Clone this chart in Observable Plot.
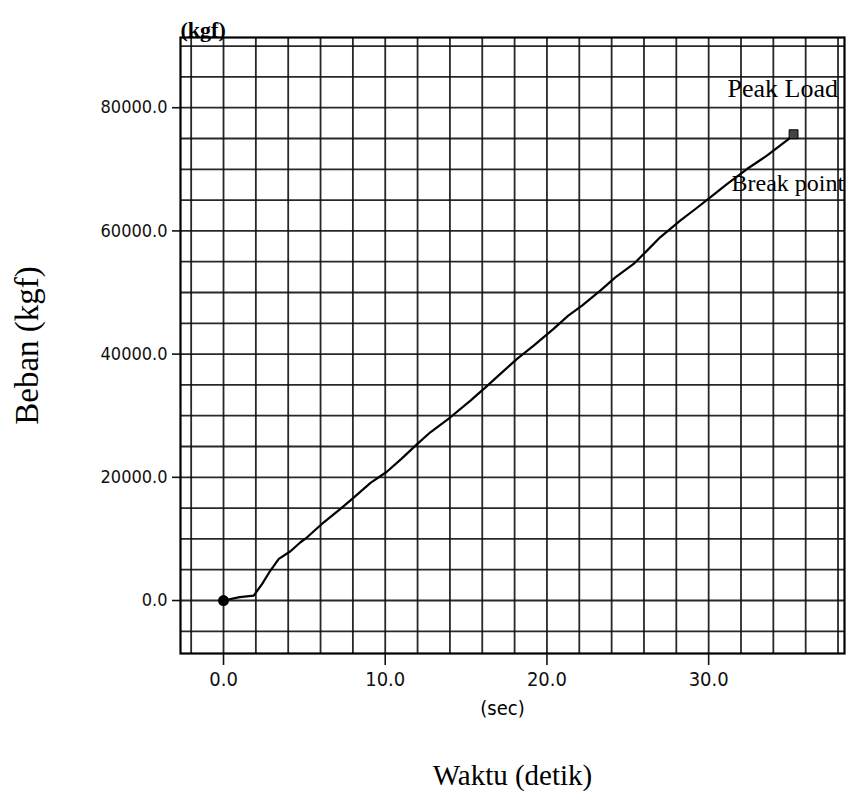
<!DOCTYPE html>
<html>
<head>
<meta charset="utf-8">
<script src="https://cdn.jsdelivr.net/npm/d3@7"></script>
<script src="https://cdn.jsdelivr.net/npm/@observablehq/plot@0.6"></script>
<style>
  html, body { margin: 0; padding: 0; background: #fff; }
  #chart svg { display: block; }
</style>
</head>
<body>
<div id="chart"></div>
<script>
// Tensile test record: load (kgf) against time (sec)
const time = [0, 1.0, 1.87, 2.39, 2.9, 3.42, 4.14, 4.76, 5.17, 6.2, 7.23, 8.05, 9.09, 10.1, 11.0,
  11.87, 12.79, 14.03, 15.27, 16.2, 17.12, 18.15, 19.18, 20.41, 21.3, 22.17, 23.3, 24.23, 25.36,
  26.19, 27.0, 28.24, 29.2, 30.1, 31.13, 32.37, 33.6, 34.94, 35.25];
const load = [0, 540, 800, 2700, 4870, 6770, 8000, 9460, 10270, 12700, 14880, 16700, 19100, 20900, 23000,
  25150, 27310, 29750, 32450, 34600, 36790, 39220, 41380, 44100, 46200, 47870, 50300, 52460, 54640,
  56800, 58960, 61660, 63600, 65440, 67610, 70050, 72210, 74920, 75700];

const xTicks = [0, 10, 20, 30];
const yTicks = [0, 20000, 40000, 60000, 80000];
const xGrid = d3.range(-2, 39, 2);
const yGrid = d3.range(-5000, 90001, 5000);

const annotations = ["Peak Load", "Break point"];

const series = time.map((t, i) => ({t, load: load[i]}));
const start = series[0];
const peak = series[series.length - 1];

const tickFont = "'Liberation Sans Narrow', 'DejaVu Sans Condensed', sans-serif";
const serif = "'Liberation Serif', 'DejaVu Serif', serif";
const fmt = d => d.toFixed(1);

const chart = Plot.plot({
  width: 847,
  height: 800,
  marginLeft: 180,
  marginRight: 3,
  marginTop: 37,
  marginBottom: 147,
  x: {domain: [-2.66, 38.4]},
  y: {domain: [-8600, 91400]},
  style: {background: "#fff", color: "#111"},
  marks: [
    Plot.gridX(xGrid, {stroke: "#111", strokeOpacity: 0.9, strokeWidth: 1.8}),
    Plot.gridY(yGrid, {stroke: "#111", strokeOpacity: 0.9, strokeWidth: 1.8}),
    Plot.frame({stroke: "#000", strokeWidth: 2.2}),
    Plot.axisY(yTicks, {
      tickSize: 8, tickPadding: 5, tickFormat: fmt, label: null,
      fontSize: 18, fontFamily: tickFont, strokeWidth: 1.6
    }),
    Plot.axisX(xTicks, {
      tickSize: 12, tickPadding: 6, tickFormat: fmt, label: null,
      fontSize: 20, fontFamily: tickFont, strokeWidth: 1.6
    }),
    Plot.line(series, {x: "t", y: "load", stroke: "#000", strokeWidth: 2.2}),
    Plot.dot([start], {x: "t", y: "load", r: 5.5, fill: "#000"}),
    Plot.dot([peak], {x: "t", y: "load", symbol: "square", r: 5, fill: "#444", stroke: "#000", strokeWidth: 1}),
    Plot.text([peak], {x: "t", y: "load", text: () => annotations[0], dx: -66, dy: -46,
      textAnchor: "start", fontSize: 26, fontFamily: serif, fill: "#000"}),
    Plot.text([peak], {x: "t", y: "load", text: () => annotations[1], dx: -62, dy: 49,
      textAnchor: "start", fontSize: 24, fontFamily: serif, fill: "#000"}),
    Plot.text(["(kgf)"], {frameAnchor: "top-left", dy: -16, textAnchor: "start",
      fontSize: 22, fontWeight: "bold", fontFamily: serif, fill: "#000"}),
    Plot.text(["(sec)"], {frameAnchor: "bottom", dx: -10, dy: 61,
      fontSize: 20, fontFamily: tickFont, fill: "#000"}),
    Plot.text(["Beban (kgf)"], {frameAnchor: "left", dx: -153, rotate: -90, textAnchor: "middle",
      fontSize: 33, fontFamily: serif, fill: "#000"}),
    Plot.text(["Waktu (detik)"], {frameAnchor: "bottom", dy: 131,
      fontSize: 29, fontFamily: serif, fill: "#000"})
  ]
});

document.getElementById("chart").appendChild(chart);
</script>
</body>
</html>
